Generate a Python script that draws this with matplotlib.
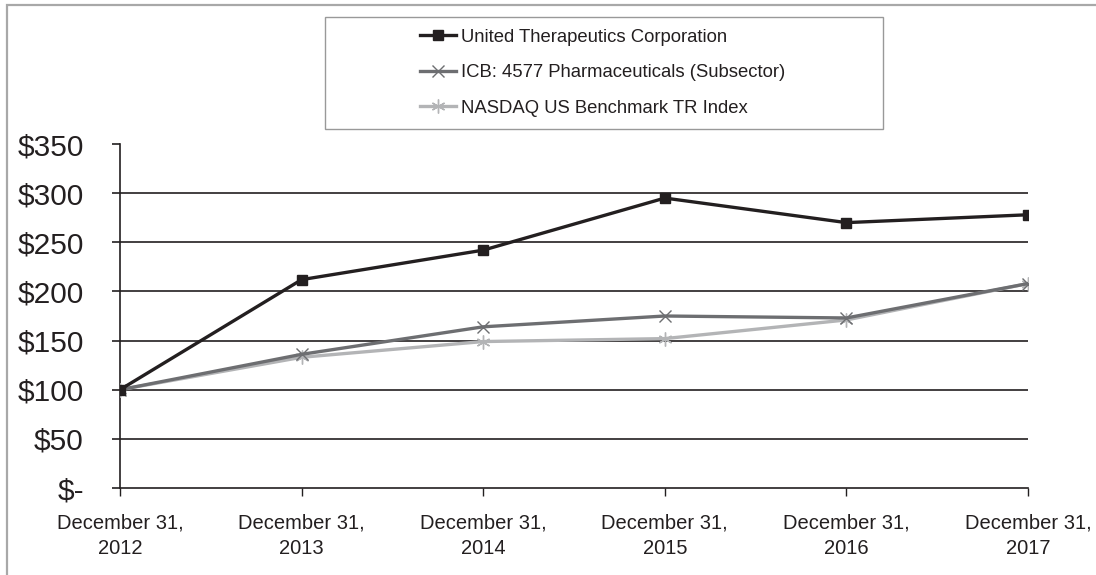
import matplotlib
matplotlib.use("Agg")
import matplotlib.pyplot as plt
from matplotlib.patches import Rectangle

plt.rcParams['font.family'] = ['Liberation Sans', 'DejaVu Sans']

categories = ["December 31,\n2012", "December 31,\n2013", "December 31,\n2014",
              "December 31,\n2015", "December 31,\n2016", "December 31,\n2017"]
united_therapeutics = [100, 212, 242, 295, 270, 278]
icb_pharma = [100, 136, 164, 175, 173, 208]
nasdaq_benchmark = [100, 133, 149, 152, 171, 208]
series_names = ["United Therapeutics Corporation",
                "ICB: 4577 Pharmaceuticals (Subsector)",
                "NASDAQ US Benchmark TR Index"]
y_ticks = [0, 50, 100, 150, 200, 250, 300, 350]
y_tick_labels = ["$-", "$50", "$100", "$150", "$200", "$250", "$300", "$350"]

W, H = 1096, 575
fig = plt.figure(figsize=(W / 100, H / 100), dpi=100)
fig.patch.set_facecolor('white')

# outer frame (light gray), extends beyond right/bottom edges
fig.patches.append(Rectangle((7 / W, -0.1), 1.2, (H - 5) / H + 0.1,
                             transform=fig.transFigure, fill=False,
                             edgecolor='#a8a8a8', linewidth=1.6, zorder=0))

ax = fig.add_axes([120 / W, (H - 488) / H, 908 / W, 344 / H])
x = list(range(len(categories)))
text_color = '#231f20'

ax.plot(x, nasdaq_benchmark, color='#b3b4b6', lw=2.4, marker=(6, 2, 0),
        markersize=10, markeredgewidth=1.0, label=series_names[2], zorder=3)
ax.plot(x, icb_pharma, color='#6d6e71', lw=2.4, marker='x',
        markersize=8, markeredgewidth=1.0, label=series_names[1], zorder=4)
ax.plot(x, united_therapeutics, color='#231f20', lw=2.4, marker='s',
        markersize=7, label=series_names[0], zorder=5)

ax.set_xlim(0, len(categories) - 1)
ax.set_ylim(0, 350)
ax.set_yticks(y_ticks)
ax.set_yticklabels(y_tick_labels)
ax.set_xticks(x)
ax.set_xticklabels(categories, linespacing=1.4)

for yv in y_ticks[1:-1]:
    ax.axhline(yv, color='#231f20', lw=1.2, zorder=1)

for s in ['top', 'right']:
    ax.spines[s].set_visible(False)
for s in ['left', 'bottom']:
    ax.spines[s].set_color('#231f20')
    ax.spines[s].set_linewidth(1.2)

ax.tick_params(axis='y', direction='out', length=6, width=1.2, color='#231f20',
               labelsize=21.5, labelcolor=text_color, pad=20)
ax.tick_params(axis='x', direction='out', length=5.5, width=1.0, color='#231f20',
               labelsize=14.5, labelcolor=text_color, pad=13)
ax.set_facecolor('white')

# legend box
fig.patches.append(Rectangle((325 / W, (H - 129) / H), (883 - 325) / W, (129 - 17) / H,
                             transform=fig.transFigure, fill=True, facecolor='white',
                             edgecolor='#999999', linewidth=1.0, zorder=2))
handles, labels = ax.get_legend_handles_labels()
order = [2, 1, 0]
leg = fig.legend([handles[i] for i in order], [labels[i] for i in order],
                 loc='upper left', bbox_to_anchor=(405 / W, (H - 14) / H),
                 frameon=False, fontsize=13.3, handlelength=1.95, handletextpad=0.3,
                 labelspacing=1.0, borderpad=0.3, labelcolor=text_color)
leg.set_zorder(3)

fig.savefig('out.png', dpi=100, facecolor='white')
